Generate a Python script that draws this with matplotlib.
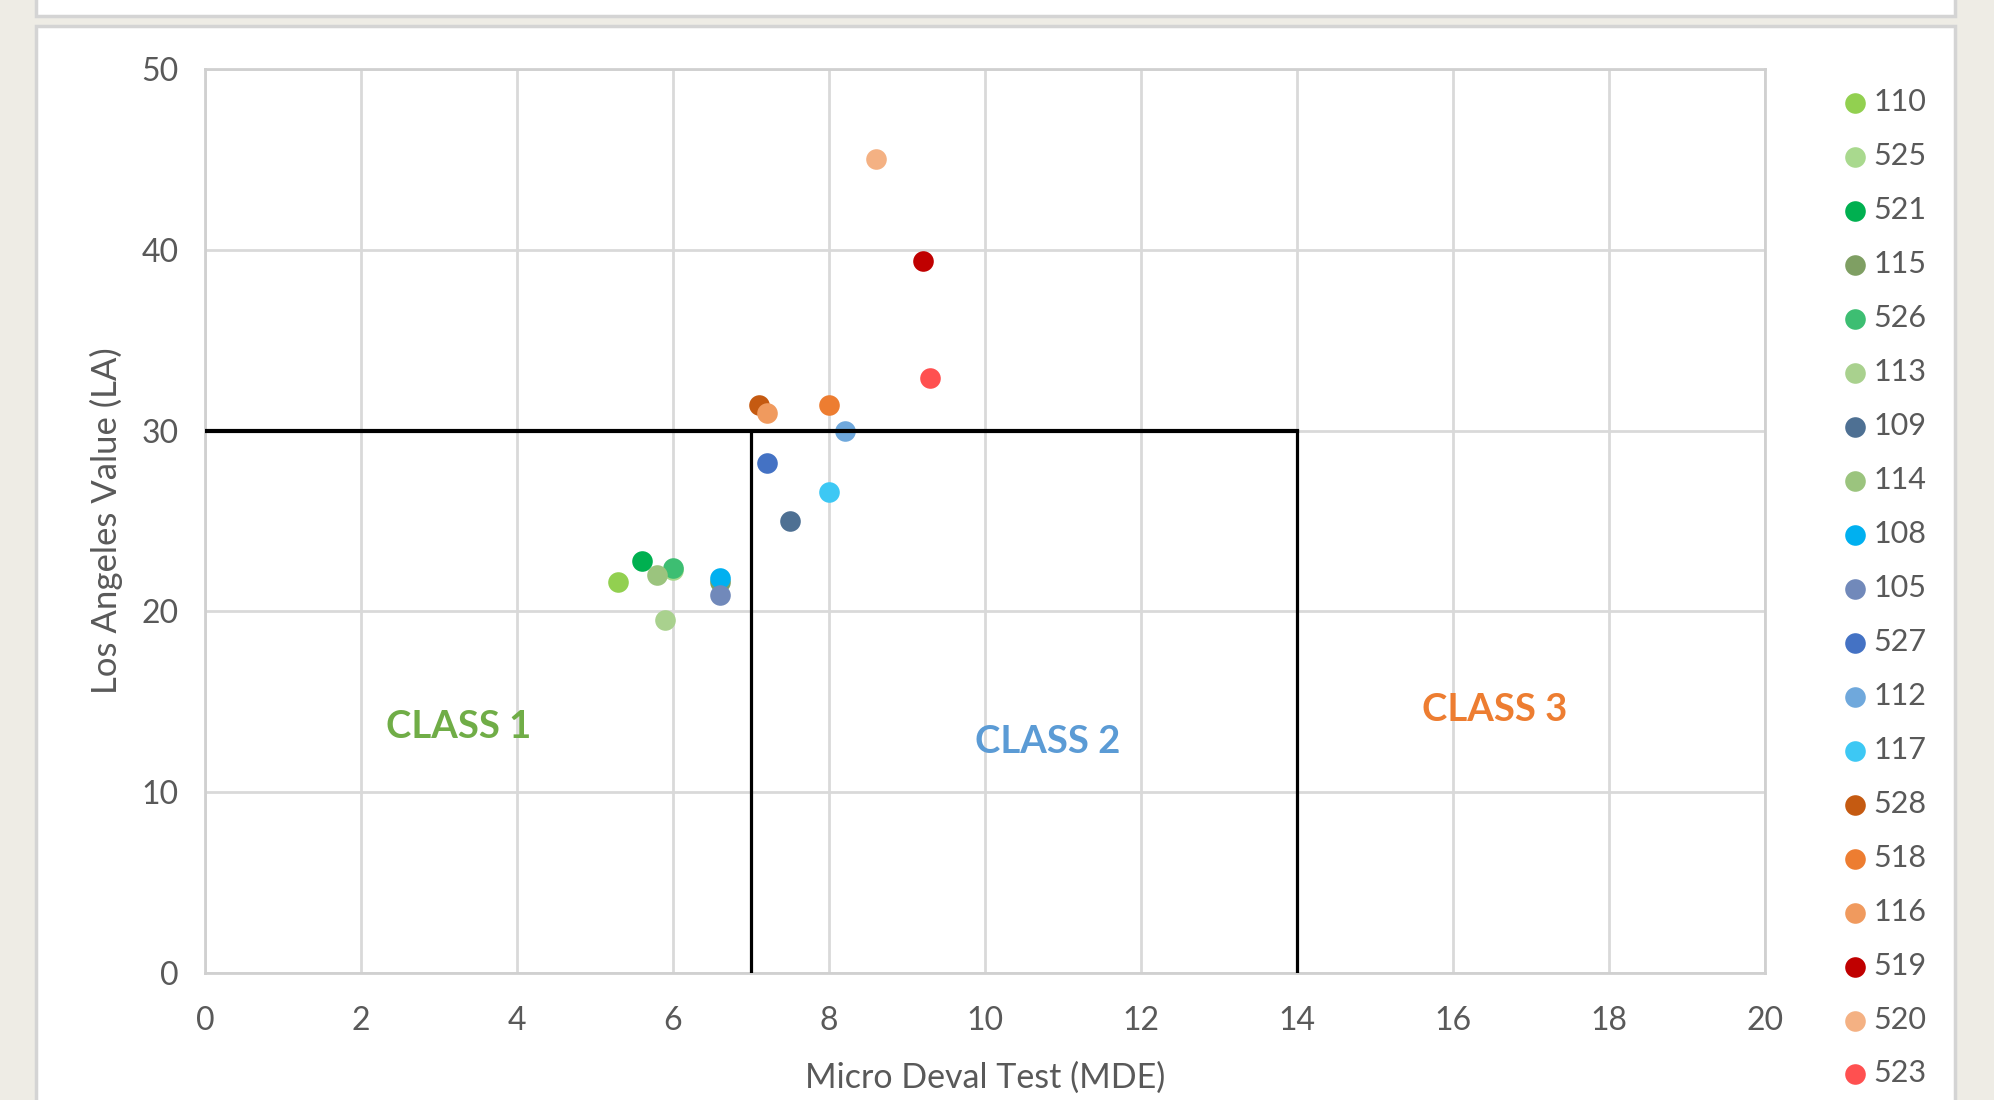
import matplotlib.pyplot as plt
from matplotlib.patches import Rectangle

# sample ids in legend order
labels = ['110', '525', '521', '115', '526', '113', '109', '114', '108', '105',
          '527', '112', '117', '528', '518', '116', '519', '520', '523']
mde = [5.3, 6.0, 5.6, 6.6, 6.0, 5.9, 7.5, 5.8, 6.6, 6.6,
       7.2, 8.2, 8.0, 7.1, 8.0, 7.2, 9.2, 8.6, 9.3]
la = [21.6, 22.3, 22.8, 21.6, 22.4, 19.5, 25.0, 22.0, 21.85, 20.9,
      28.2, 30.0, 26.6, 31.4, 31.4, 31.0, 39.4, 45.0, 32.9]
colors = ['#92D050', '#A9D98E', '#00B050', '#7F9F63', '#3DBE72', '#A9D18E',
          '#4E7093', '#9BC47E', '#00B0F0', '#7189BA', '#4472C4', '#6FA8DC',
          '#3DC8F4', '#C55A11', '#ED7D31', '#F09A5E', '#C00000', '#F4B183',
          '#FF5050']

# class boundaries
la_limit = 30
mde_limits = [7, 14]
class_names = ['CLASS 1', 'CLASS 2', 'CLASS 3']
class_pos = [(3.25, 13.6), (10.8, 12.75), (16.53, 14.55)]
class_colors = ['#70AD47', '#5B9BD5', '#ED7D31']

plt.rcParams['font.family'] = ['Lato', 'DejaVu Sans']

W, H = 1994, 1100
fig = plt.figure(figsize=(W / 100, H / 100), dpi=100, facecolor='#EEECE5')

# white panels like the spreadsheet chart frames
fig.patches.append(Rectangle((36 / W, (H - 16) / H), 1919 / W, 40 / H,
                             transform=fig.transFigure, facecolor='white',
                             edgecolor='#D4D4D4', lw=2.5, zorder=-5))
fig.patches.append(Rectangle((36 / W, -20 / H), 1919 / W, (H - 26 + 20) / H,
                             transform=fig.transFigure, facecolor='white',
                             edgecolor='#D4D4D4', lw=2.5, zorder=-5))

ax = fig.add_axes([205 / W, (H - 973) / H, 1560 / W, 904 / H])
ax.set_facecolor('white')

for i in range(len(labels)):
    ax.scatter(mde[i], la[i], s=220, color=colors[i], label=labels[i],
               zorder=3, linewidths=0)

ax.plot([0, mde_limits[1]], [la_limit, la_limit], color='black', lw=3, zorder=4)
for m in mde_limits:
    ax.plot([m, m], [0, la_limit], color='black', lw=2.3, zorder=4)

for name, (x, y), c in zip(class_names, class_pos, class_colors):
    ax.text(x, y, name, color=c, fontsize=27.5, fontweight='bold',
            ha='center', va='center')

ax.set_xlim(0, 20)
ax.set_ylim(0, 50)
ax.set_xticks(range(0, 21, 2))
ax.set_yticks(range(0, 51, 10))
ax.grid(True, color='#D9D9D9', lw=2)
ax.set_axisbelow(True)
for s in ax.spines.values():
    s.set_color('#D0D0D0')
    s.set_linewidth(2)
ax.tick_params(length=0, labelsize=23, labelcolor='#595959')
ax.tick_params(axis='x', pad=24)
ax.tick_params(axis='y', pad=19)
ax.set_xlabel('Micro Deval Test (MDE)', fontsize=24.5, color='#595959', labelpad=18)
ax.set_ylabel('Los Angeles Value (LA)', fontsize=25, color='#595959', labelpad=13)

leg = fig.legend(loc='upper left', bbox_to_anchor=(1846 / W, (H - 88) / H),
                 frameon=False, fontsize=22, handlelength=0.6,
                 handletextpad=0.3, labelspacing=0.85, borderpad=0,
                 borderaxespad=0)
for t in leg.get_texts():
    t.set_color('#595959')

fig.savefig('out.png', dpi=100, facecolor=fig.get_facecolor())
